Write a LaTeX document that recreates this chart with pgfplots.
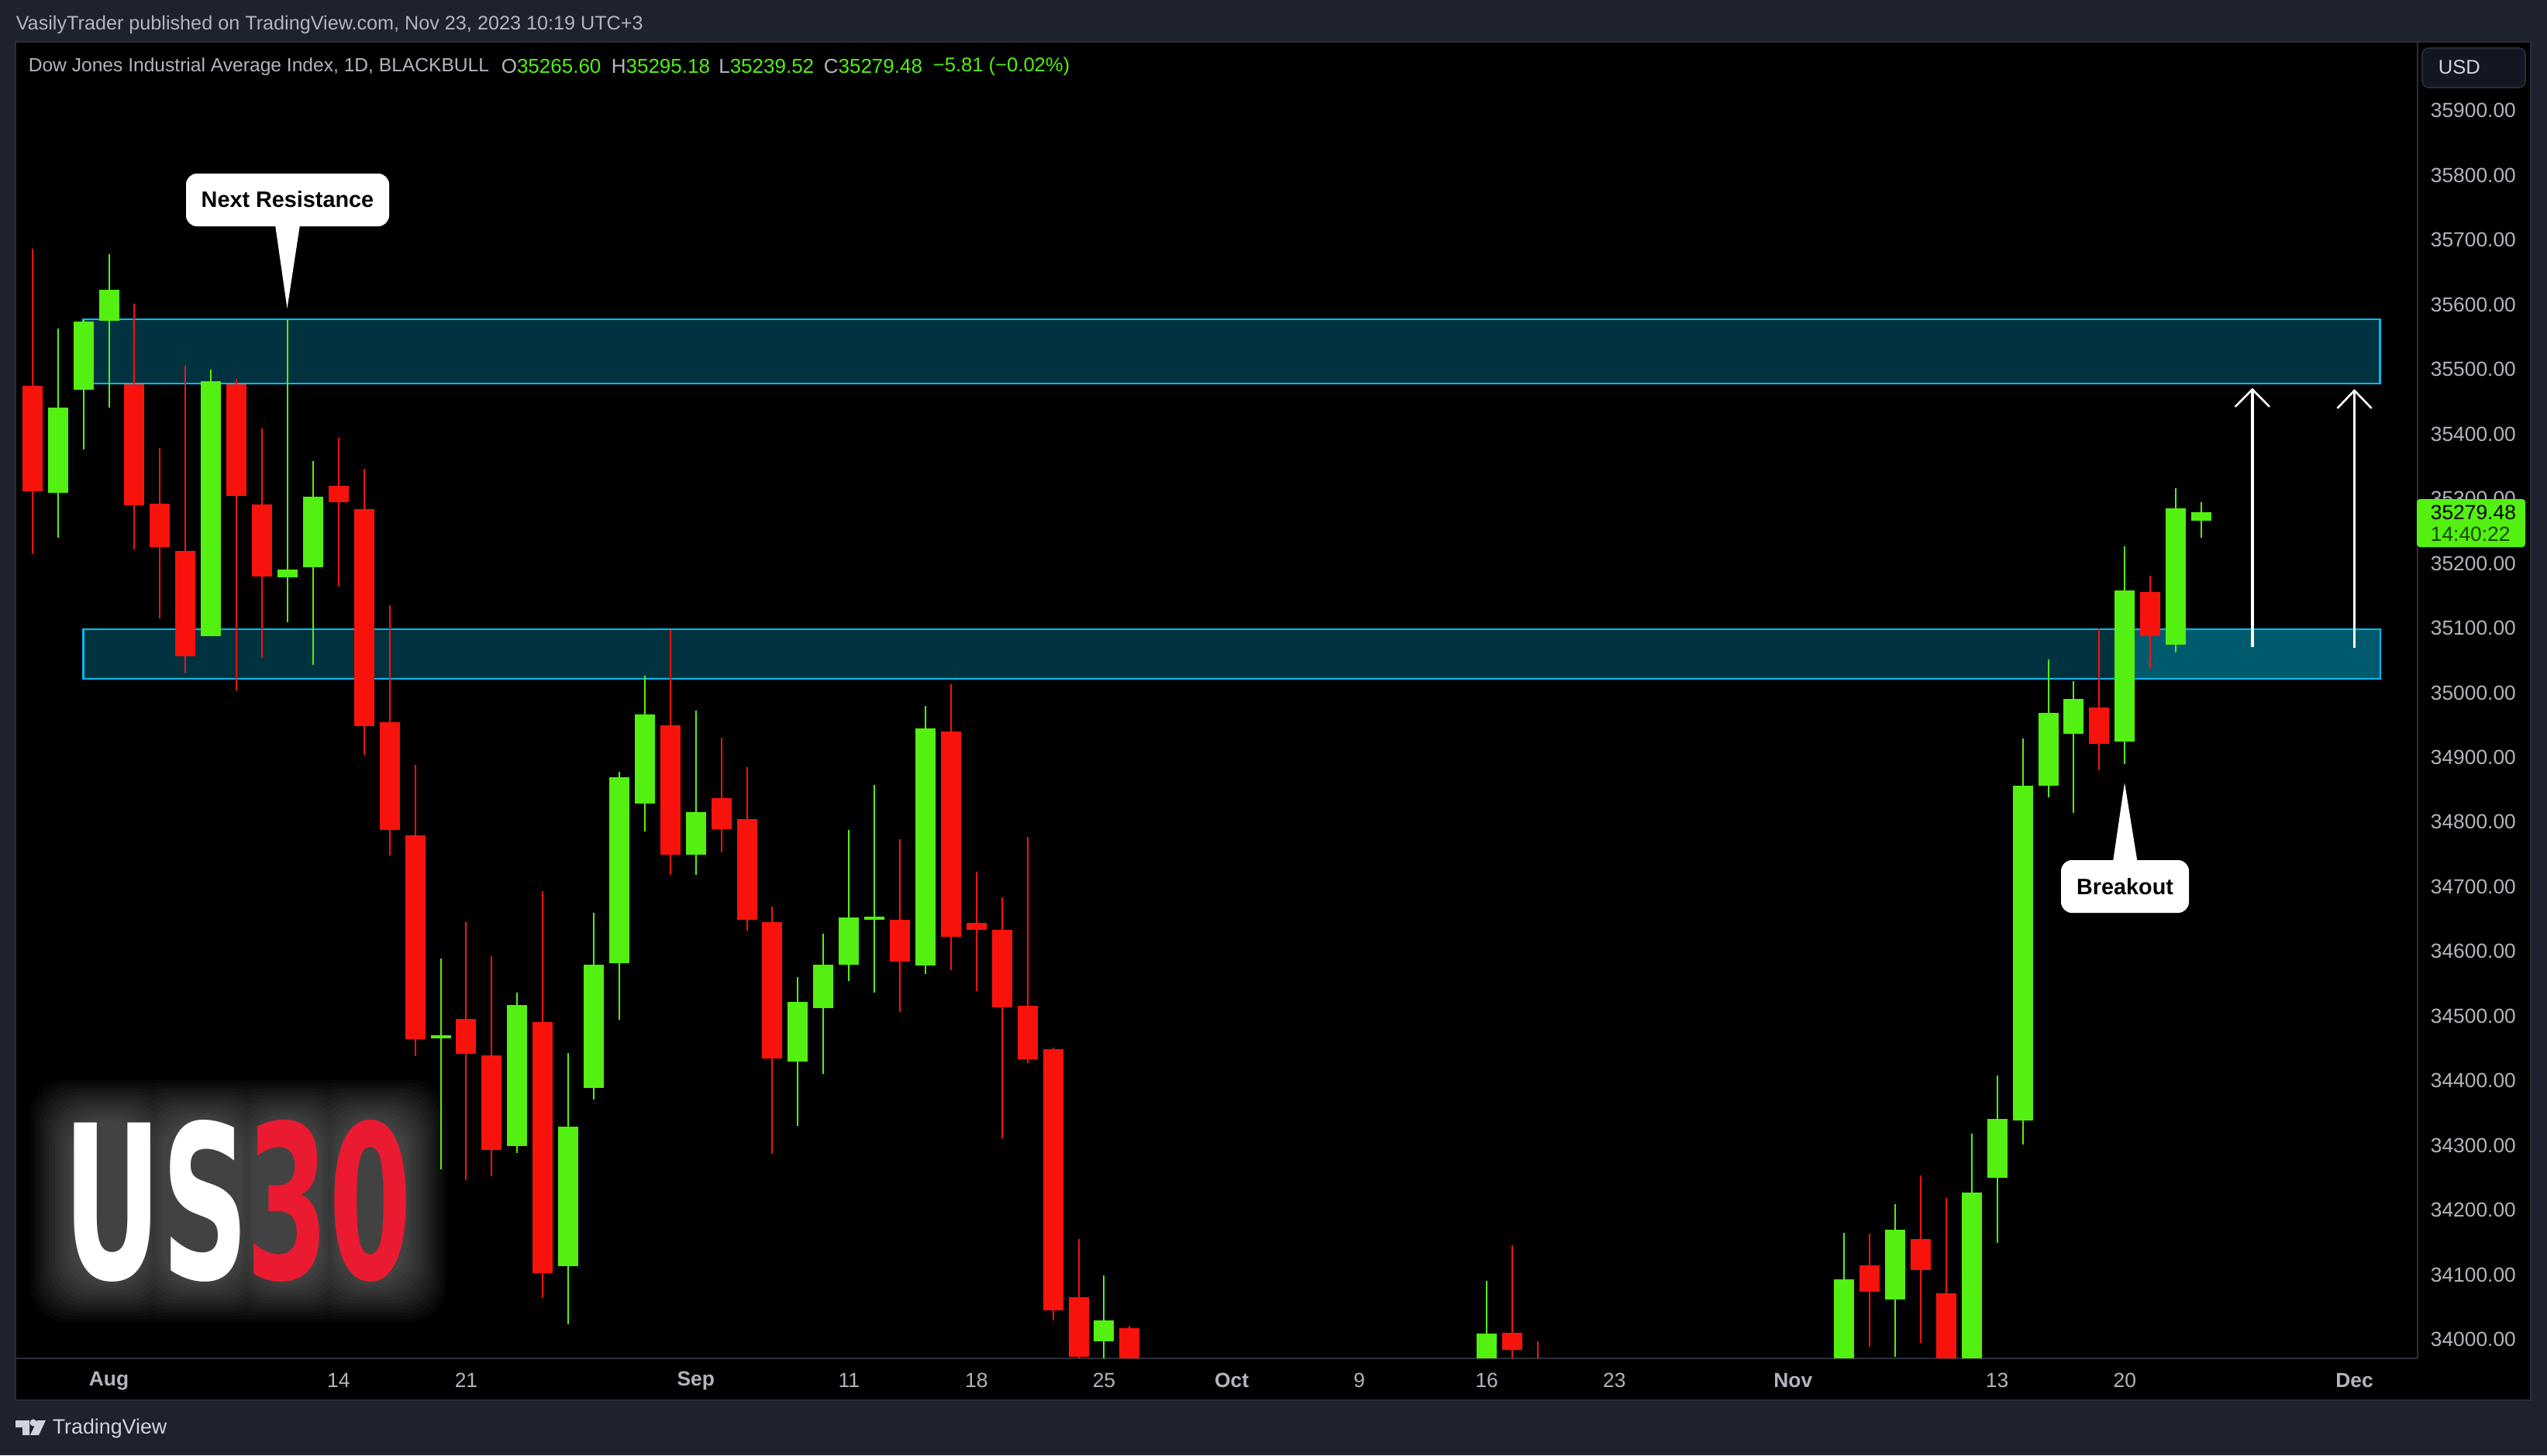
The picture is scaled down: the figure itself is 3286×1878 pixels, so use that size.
\documentclass[border=0pt]{standalone}
\usepackage{pgfplots}
\usepackage{pgfplotstable}
\pgfplotsset{compat=1.18}
\usepackage{fontspec}
\setmainfont{Liberation Sans}
\newfontfamily\logofont{DejaVu Sans}
\definecolor{tvbg}{HTML}{1E222D}
\definecolor{tvline}{HTML}{2A2E39}
\definecolor{tvtxt}{HTML}{B2B5BE}
\definecolor{tvlite}{HTML}{D1D4DC}
\definecolor{tvbtn}{HTML}{131722}
\definecolor{cgreen}{HTML}{53F011}
\definecolor{cred}{HTML}{F7130C}
\definecolor{zline}{HTML}{00BCF2}
\definecolor{zfill}{HTML}{00323F}
\definecolor{zbright}{HTML}{005A6E}
\definecolor{logored}{HTML}{EA1B30}
\pgfplotstableread{
i h t b l
0 35686.5 35475.0 35311.5 35214.4
4 35601.5 35476.8 35289.9 35221.6
5 35378.6 35292.3 35225.2 35115.0
6 35505.6 35219.2 35056.2 35030.2
8 35485.2 35476.8 35304.3 35003.5
9 35408.5 35291.1 35179.7 35054.2
12 35394.2 35319.9 35294.7 35164.1
13 35346.2 35283.9 34948.4 34904.4
14 35135.3 34954.4 34787.8 34748.3
15 34888.5 34779.4 34464.3 34437.9
17 34645.2 34495.4 34441.5 34246.5
18 34592.5 34439.1 34292.9 34252.2
20 34693.2 34490.6 34102.4 34064.0
25 35097.0 34949.6 34749.5 34718.3
27 34930.4 34837.0 34789.0 34753.1
28 34884.9 34804.6 34648.8 34632.0
29 34669.2 34645.2 34434.3 34286.9
34 34773.4 34648.8 34584.1 34506.2
36 35013.1 34940.0 34622.5 34570.9
37 34723.1 34644.0 34633.2 34538.6
38 34683.6 34633.2 34513.4 34310.9
39 34777.0 34515.8 34433.1 34427.2
40 34451.1 34448.7 34044.9 34029.3
41 34155.1 34065.2 33973.0 33967.0
43 34020.9 34017.3 33900.0 33880.0
58 34145.5 34010.1 33983.8 33920.0
59 33996.9 33960.0 33900.0 33880.0
72 34163.5 34114.4 34073.6 33988.6
74 34253.4 34155.1 34107.2 33994.5
75 34218.6 34071.2 33900.0 33880.0
81 35099.4 34977.2 34920.8 34880.1
83 35180.9 35155.7 35087.4 35037.1
}\redcandles
\pgfplotstableread{
i h t b l
1 35563.1 35440.9 35309.1 35239.6
2 35576.9 35573.9 35468.5 35376.2
3 35678.2 35623.0 35575.6 35441.3
7 35499.6 35481.6 35087.4 35087.4
10 35576.9 35190.4 35178.5 35109.0
11 35358.2 35303.1 35194.0 35043.1
16 34588.9 34470.3 34465.5 34263.3
19 34536.2 34517.0 34298.9 34288.1
21 34442.7 34328.9 34113.2 34023.3
22 34659.6 34579.3 34388.8 34370.8
23 34877.7 34869.3 34581.7 34494.2
24 35026.3 34966.4 34828.6 34785.4
26 34972.4 34815.4 34749.5 34718.3
30 34560.2 34521.8 34429.5 34330.1
31 34627.2 34579.3 34512.2 34410.4
32 34787.8 34652.4 34579.3 34554.2
33 34857.3 34653.6 34648.8 34536.2
35 34979.5 34944.8 34578.1 34564.9
42 34098.8 34029.3 33996.9 33950.0
57 34090.4 34008.9 33900.0 33880.0
71 34164.7 34092.8 33900.0 33880.0
73 34209.0 34169.5 34061.6 33973.0
76 34318.1 34227.0 33900.0 33880.0
77 34408.0 34340.9 34249.8 34149.1
78 34929.2 34856.1 34338.5 34301.3
79 35051.4 34968.8 34856.1 34838.1
80 35017.9 34990.3 34936.4 34814.2
82 35226.4 35158.1 34924.4 34889.7
84 35316.3 35285.1 35074.2 35062.2
85 35295.18 35279.48 35265.60 35239.52
}\greencandles
\begin{document}
\begin{tikzpicture}[x=0.25pt,y=-0.25pt]
\useasboundingbox (0,0) rectangle (3286,1878);
\fill[tvbg] (0,0) rectangle (3286,1878);
\fill[black,draw=tvline,line width=0.5pt] (20,53.6) rectangle (3265,1807);
% header and footer
\node[anchor=west,inner sep=0,text=tvtxt,font=\fontsize{6.3pt}{8pt}\selectfont] at (20,32) {VasilyTrader published on TradingView.com, Nov 23, 2023 10:19 UTC+3};
\node[anchor=west,inner sep=0,text=tvtxt,font=\fontsize{6.15pt}{8pt}\selectfont] at (36,85.7) {Dow Jones Industrial Average Index, 1D, BLACKBULL};
\foreach \xa/\la/\va in {646/O/35265.60,788/H/35295.18,926.5/L/35239.52,1062/C/35279.48}{
  \node[anchor=west,inner sep=0,font=\fontsize{6.5pt}{8pt}\selectfont] at (\xa,85.7) {\textcolor{tvtxt}{\la}\textcolor{cgreen}{\va}};
}
\node[anchor=west,inner sep=0,text=cgreen,font=\fontsize{6.4pt}{8pt}\selectfont] at (1203,85.7) {−5.81 (−0.02\%)};
% footer logo
\fill[tvlite] (20,1833) -- (38,1833) -- (38,1852) -- (29,1852) -- (29,1842) -- (20,1842) -- cycle;
\fill[tvlite] (43,1836) circle (4.5);
\fill[tvlite] (48,1833) -- (59,1833) -- (50,1852) -- (39,1852) -- cycle;
\node[anchor=west,inner sep=0,text=tvlite,font=\fontsize{6.7pt}{9pt}\selectfont] at (67,1844) {TradingView};
% logo glow
\foreach \d in {52,48,...,0}{
  \fill[white,opacity=.025,rounded corners=12pt]
    (91-\d,1445-\d) rectangle (188+\d,1654+\d)
    (208-\d,1445-\d) rectangle (311+\d,1654+\d)
    (326-\d,1445-\d) rectangle (415+\d,1654+\d)
    (435-\d,1445-\d) rectangle (524.5+\d,1654+\d);
}
\node[anchor=north west,inner sep=0,text=white] at (80.5,1445) {\resizebox*{60pt}{52.25pt}{\logofont\bfseries US}};
\node[anchor=north west,inner sep=0,text=logored] at (317,1445) {\resizebox*{53.5pt}{52.25pt}{\logofont\bfseries 30}};
\begin{axis}[
  at={(5pt,-438.175pt)},anchor=south west,
  width=774.75pt,height=424.775pt,scale only axis,
  xmin=-0.662,xmax=93.475,ymin=33970.9,ymax=36007,
  axis line style={tvline,line width=0.5pt},
  axis x line*=bottom,axis y line*=right,
  tick style={draw=none},
  major tick length=0pt,
  scaled y ticks=false,
  xtick={3,12,17,26,32,37,42,47,52,57,62,69,77,82,91},
  xticklabels={\textbf{Aug},14,21,\textbf{Sep},11,18,25,\textbf{Oct},9,16,23,\textbf{Nov},13,20,\textbf{Dec}},
  ytick={34000,34100,...,35900},
  tick label style={text=tvtxt,font=\fontsize{6.6pt}{8pt}\selectfont},
  xticklabel style={anchor=center,inner sep=0pt,yshift=-7.25pt},
  yticklabel style={anchor=west,inner sep=0pt,xshift=4pt,
     /pgf/number format/fixed,/pgf/number format/fixed zerofill,/pgf/number format/precision=2,/pgf/number format/1000 sep={},/pgf/number format/assume math mode=true},
  clip=true,
]
\addplot[fill=zfill,draw=zline,line width=0.6pt] coordinates {(2,35478)(92,35478)(92,35577.5)(2,35577.5)} --cycle;
\addplot[fill=zfill,draw=zline,line width=0.6pt] coordinates {(2,35021.5)(92,35021.5)(92,35098.2)(2,35098.2)} --cycle;
\addplot[fill=zbright,draw=none] coordinates {(82,35022.5)(92,35022.5)(92,35097.2)(82,35097.2)} --cycle;
\addplot[no marks,draw=cred,line width=0.5pt,quiver={u=0,v=\thisrow{l}-\thisrow{h}}] table[x=i,y=h]{\redcandles};
\addplot[no marks,draw=cred,line width=6.5pt,quiver={u=0,v=\thisrow{b}-\thisrow{t}}] table[x=i,y=t]{\redcandles};
\addplot[no marks,draw=cgreen,line width=0.5pt,quiver={u=0,v=\thisrow{l}-\thisrow{h}}] table[x=i,y=h]{\greencandles};
\addplot[no marks,draw=cgreen,line width=6.5pt,quiver={u=0,v=\thisrow{b}-\thisrow{t}}] table[x=i,y=t]{\greencandles};
% arrows
\addplot[white,line width=0.85pt] coordinates {(87,35070.6)(87,35469.1)};
\addplot[white,line width=0.65pt,line cap=round,line join=miter] coordinates {(86.34,35442.7)(87,35469.1)(87.66,35442.7)};
\addplot[white,line width=0.85pt] coordinates {(91,35070.0)(91,35467.3)};
\addplot[white,line width=0.65pt,line cap=round,line join=miter] coordinates {(90.34,35440.3)(91,35467.3)(91.66,35440.3)};
\end{axis}
% callouts
\fill[white] (355,290) -- (387,290) -- (370.5,398) -- cycle;
\fill[white,rounded corners=3.5pt] (240,224) rectangle (502,292);
\node[inner sep=0,text=black,font=\fontsize{7.2pt}{9pt}\selectfont\bfseries] at (371,257) {Next Resistance};
\fill[white] (2726,1112) -- (2757.5,1112) -- (2741,1010) -- cycle;
\fill[white,rounded corners=3.5pt] (2659,1110) rectangle (2824,1178);
\node[inner sep=0,text=black,font=\fontsize{7.2pt}{9pt}\selectfont\bfseries] at (2741.5,1144) {Breakout};
% price label
\fill[cgreen,rounded corners=1pt] (3118,644) rectangle (3258,706);
\node[anchor=west,inner sep=0,text=black,font=\fontsize{6.6pt}{8pt}\selectfont] at (3135,661.5) {35279.48};
\node[anchor=west,inner sep=0,text=black!70!cgreen,font=\fontsize{6.6pt}{8pt}\selectfont] at (3135,689) {14:40:22};
% USD button
\fill[tvbtn,draw=tvline,line width=0.4pt,rounded corners=2pt] (3125,62) rectangle (3258,113);
\node[anchor=west,inner sep=0,text=tvlite,font=\fontsize{6.4pt}{8pt}\selectfont] at (3145,87) {USD};
\end{tikzpicture}
\end{document}
